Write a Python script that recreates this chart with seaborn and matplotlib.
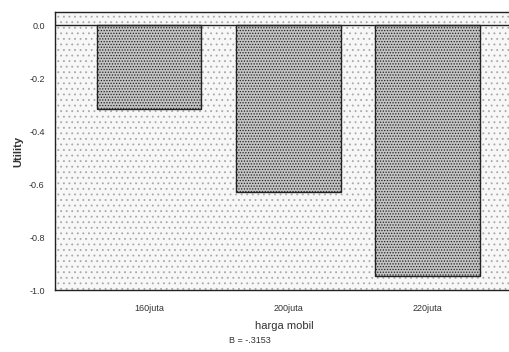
import pandas as pd
import seaborn as sns
import matplotlib.pyplot as plt
from matplotlib.patches import Rectangle

# Data (conjoint utilities for car price)
harga = ['160juta', '200juta', '220juta']
utility = [-0.3153, -0.6306, -0.9459]
koefisien = '-.3153'

sns.set_style('white')
plt.rcParams['font.family'] = ['Liberation Sans', 'DejaVu Sans']
plt.rcParams['hatch.color'] = '#666666'
plt.rcParams['hatch.linewidth'] = 0.6

dados = pd.DataFrame({'harga': harga, 'utility': utility})

fig = plt.figure(figsize=(5.1, 3.52), dpi=100)
ax = fig.add_axes([0.108, 0.176, 0.90, 0.79])

# fundo pontilhado, como no grafico digitalizado do SPSS
fundo = Rectangle((0, 0), 1, 1, transform=ax.transAxes, facecolor='#f7f7f7',
                  hatch='...', edgecolor='#a8a8a8', linewidth=0, zorder=0)
ax.add_patch(fundo)

sns.barplot(data=dados, x='harga', y='utility', color='#c4c4c4',
            width=0.75, edgecolor='#222222', linewidth=1.0, ax=ax, zorder=2)
for barra in ax.patches:
    if barra is not fundo:
        barra.set_hatch('......')

ax.axhline(0, color='#222222', linewidth=1.0, zorder=3)
ax.set_ylim(-1.0, 0.05)
ax.set_xlim(-0.675, 2.62)
ax.set_yticks([-1.0, -0.8, -0.6, -0.4, -0.2, 0.0])
ax.set_yticklabels(['-1.0', '-0.8', '-0.6', '-0.4', '-0.2', '0.0'])

for lado in ['left', 'top', 'bottom']:
    ax.spines[lado].set_color('#222222')
    ax.spines[lado].set_linewidth(1.0)
ax.spines['right'].set_visible(False)

ax.tick_params(axis='both', which='both', length=4, width=0.8,
               color='#222222', labelsize=6.5, direction='out', labelcolor='#333333')
ax.tick_params(axis='x', pad=6)
ax.set_xlabel('harga mobil', fontsize=8, color='#333333', labelpad=6)
ax.set_ylabel('Utility', fontsize=8, fontweight='bold', color='#333333', labelpad=4)

fig.text(0.49, 0.025, 'B = ' + koefisien, ha='center', fontsize=6.5, color='#333333')

plt.savefig('out.png', dpi=100)
